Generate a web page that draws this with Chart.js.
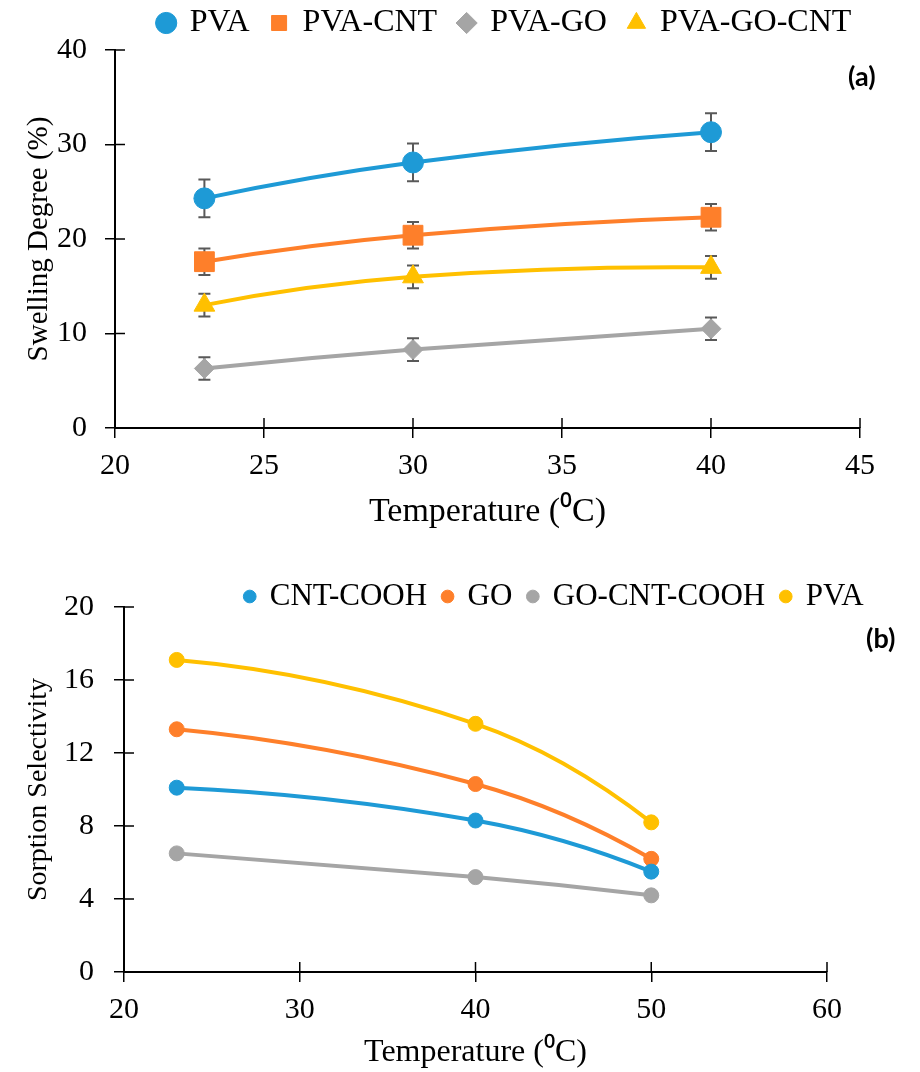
<!DOCTYPE html>
<html>
<head>
<meta charset="utf-8">
<script src="https://cdn.jsdelivr.net/npm/chart.js@4.4.0/dist/chart.umd.min.js"></script>
<style>
html, body { margin: 0; padding: 0; background: #fff; overflow: hidden; }
#wrap { position: relative; width: 920px; height: 1072px; overflow: hidden; }
canvas { position: absolute; left: 0; }
#chartA { top: -15px; }
#chartB { top: 565px; }
.tag { position: absolute; font-family: Lato, sans-serif; font-weight: bold; font-size: 27px; line-height: 1; color: #000; }
</style>
</head>
<body>
<div id="wrap">
  <canvas id="chartA" width="1010" height="555"></canvas>
  <canvas id="chartB" width="1109" height="507"></canvas>
  <div class="tag" style="left:848px; top:62px;">(a)</div>
  <div class="tag" style="left:866px; top:624px;">(b)</div>
</div>
<script>
// (a) swelling degree vs temperature
const tempsA = [23, 30, 40];
const pva = [24.3, 28.1, 31.3];
const pvaCnt = [17.6, 20.4, 22.3];
const pvaGo = [6.3, 8.3, 10.5];
const pvaGoCnt = [13.0, 16.0, 17.0];
const errPva = [2.0, 2.0, 2.0];
const errPvaCnt = [1.4, 1.4, 1.4];
const errPvaGo = [1.2, 1.2, 1.2];
const errPvaGoCnt = [1.2, 1.2, 1.2];
const ticksA_x = [20, 25, 30, 35, 40, 45];
const ticksA_y = [0, 10, 20, 30, 40];

// (b) sorption selectivity vs temperature
const tempsB = [23, 40, 50];
const cntCooh = [10.1, 8.3, 5.5];
const go = [13.3, 10.3, 6.2];
const goCntCooh = [6.5, 5.2, 4.2];
const pvaB = [17.1, 13.6, 8.2];
const ticksB_x = [20, 30, 40, 50, 60];
const ticksB_y = [0, 4, 8, 12, 16, 20];

const BLUE = '#1e9ad6';
const ORANGE = '#fe7f2a';
const GRAY = '#a5a5a5';
const GOLD = '#ffc000';
const SERIF = "'Liberation Serif', 'Times New Roman', serif";

Chart.defaults.font.family = SERIF;
Chart.defaults.color = '#000';

function pts(xs, ys) {
    return xs.map((x, i) => ({ x: x, y: ys[i] }));
}

// legend box gets a fixed height so the plot top lands where wanted
const legendHeight = {
    id: 'legendHeight',
    beforeInit(chart, args, opts) {
        const fit = chart.legend.fit;
        chart.legend.fit = function () {
            fit.call(this);
            this.height = opts.height;
        };
    }
};

// excel-like smoothing: catmull-rom inside, reflected tangent at the ends
const excelSmooth = {
    id: 'excelSmooth',
    beforeDatasetsDraw(chart) {
        chart.data.datasets.forEach((ds, di) => {
            const meta = chart.getDatasetMeta(di);
            const p = meta.data;
            const n = p.length;
            if (n < 3) return;
            const m = [];
            for (let i = 1; i < n - 1; i++) {
                m[i] = (p[i + 1].y - p[i - 1].y) / (p[i + 1].x - p[i - 1].x);
            }
            m[0] = 2 * (p[1].y - p[0].y) / (p[1].x - p[0].x) - m[1];
            m[n - 1] = 2 * (p[n - 1].y - p[n - 2].y) / (p[n - 1].x - p[n - 2].x) - m[n - 2];
            for (let i = 0; i < n; i++) {
                const hl = i > 0 ? (p[i].x - p[i - 1].x) / 3 : 0;
                const hr = i < n - 1 ? (p[i + 1].x - p[i].x) / 3 : 0;
                p[i].cp1x = p[i].x - hl;
                p[i].cp1y = p[i].y - m[i] * hl;
                p[i].cp2x = p[i].x + hr;
                p[i].cp2y = p[i].y + m[i] * hr;
            }
            meta.dataset._pointsUpdated = true;
        });
    }
};

// excel style "cross" ticks: the inner half of every tick mark
const innerTicks = {
    id: 'innerTicks',
    beforeDatasetsDraw(chart, args, opts) {
        const ctx = chart.ctx;
        const area = chart.chartArea;
        ctx.save();
        ctx.strokeStyle = '#000';
        ctx.lineWidth = opts.width;
        ['x', 'y'].forEach(id => {
            const s = chart.scales[id];
            s.ticks.forEach(t => {
                const p = s.getPixelForValue(t.value);
                ctx.beginPath();
                if (id === 'x') {
                    ctx.moveTo(p, area.bottom);
                    ctx.lineTo(p, area.bottom - opts.length);
                } else {
                    ctx.moveTo(area.left, p);
                    ctx.lineTo(area.left + opts.length, p);
                }
                ctx.stroke();
            });
        });
        ctx.restore();
    }
};

// vertical error bars with caps, from dataset.errors
const errorBars = {
    id: 'errorBars',
    beforeDatasetsDraw(chart) {
        const ctx = chart.ctx;
        const xs = chart.scales.x, ys = chart.scales.y;
        ctx.save();
        ctx.strokeStyle = '#595959';
        ctx.lineWidth = 2;
        chart.data.datasets.forEach(ds => {
            if (!ds.errors) return;
            ds.data.forEach((d, i) => {
                const x = xs.getPixelForValue(d.x);
                const y1 = ys.getPixelForValue(d.y - ds.errors[i]);
                const y2 = ys.getPixelForValue(d.y + ds.errors[i]);
                ctx.beginPath();
                ctx.moveTo(x, y1); ctx.lineTo(x, y2);
                ctx.moveTo(x - 6, y1); ctx.lineTo(x + 6, y1);
                ctx.moveTo(x - 6, y2); ctx.lineTo(x + 6, y2);
                ctx.stroke();
            });
        });
        ctx.restore();
    }
};

function series(label, xs, ys, color, style, radius, errs) {
    return {
        label: label,
        data: pts(xs, ys),
        errors: errs,
        showLine: true,
        borderColor: color,
        backgroundColor: color,
        borderWidth: 4,
        tension: 0.35,
        pointStyle: style,
        pointRadius: radius,
        pointBackgroundColor: color,
        pointBorderColor: color,
        pointBorderWidth: 1
    };
}

function axes(o) {
    return {
        x: {
            type: 'linear', min: o.xt[0], max: o.xt[o.xt.length - 1],
            afterBuildTicks: s => { s.ticks = o.xt.map(v => ({ value: v })); },
            ticks: { padding: 10, font: { family: SERIF, size: 30 }, color: '#000' },
            grid: { drawOnChartArea: false, tickLength: 10, color: '#000', lineWidth: 1.5 },
            border: { color: '#000', width: 2 },
            title: { display: true, text: 'Temperature (⁰C)', font: { family: SERIF, size: o.titleSize }, color: '#000',
                     padding: { top: 0, bottom: o.titlePad } },
            afterFit: s => { s.height = o.xHeight; }
        },
        y: {
            type: 'linear', min: o.yt[0], max: o.yt[o.yt.length - 1],
            afterBuildTicks: s => { s.ticks = o.yt.map(v => ({ value: v })); },
            ticks: { padding: o.yPad, font: { family: SERIF, size: 30 }, color: '#000' },
            grid: { drawOnChartArea: false, tickLength: 10, color: '#000', lineWidth: 1.5 },
            border: { color: '#000', width: 2 },
            title: { display: true, text: o.yTitle, font: { family: SERIF, size: o.ySize }, color: '#000',
                     padding: { top: 22, bottom: 0 } },
            afterFit: s => { s.width = o.yWidth; }
        },
        spacer: {
            type: 'linear', axis: 'y', position: 'right', display: true,
            grid: { display: false }, border: { display: false }, ticks: { display: false },
            afterFit: s => { s.width = o.rightWidth; }
        }
    };
}

new Chart(document.getElementById('chartA'), {
    type: 'scatter',
    data: {
        datasets: [
            series('PVA', tempsA, pva, BLUE, 'circle', 10.5, errPva),
            series('PVA-CNT', tempsA, pvaCnt, ORANGE, 'rect', 14, errPvaCnt),
            series('PVA-GO', tempsA, pvaGo, GRAY, 'rectRot', 10, errPvaGo),
            series('PVA-GO-CNT', tempsA, pvaGoCnt, GOLD, 'triangle', 12, errPvaGoCnt)
        ]
    },
    options: {
        responsive: false,
        animation: false,
        layout: { padding: 0 },
        plugins: {
            legend: {
                position: 'top',
                labels: { usePointStyle: true, boxWidth: 15, boxHeight: 15, padding: 22,
                          font: { family: SERIF, size: 32 }, color: '#000' }
            },
            tooltip: { enabled: false },
            legendHeight: { height: 65 },
            innerTicks: { length: 10, width: 1.5 }
        },
        scales: axes({ xt: ticksA_x, yt: ticksA_y, yTitle: 'Swelling Degree (%)', ySize: 29, yPad: 18,
                       yWidth: 115, rightWidth: 150, xHeight: 112, titleSize: 34, titlePad: 8 })
    },
    plugins: [legendHeight, excelSmooth, innerTicks, errorBars]
});

new Chart(document.getElementById('chartB'), {
    type: 'scatter',
    data: {
        datasets: [
            series('CNT-COOH', tempsB, cntCooh, BLUE, 'circle', 7.5),
            series('GO', tempsB, go, ORANGE, 'circle', 7.5),
            series('GO-CNT-COOH', tempsB, goCntCooh, GRAY, 'circle', 7.5),
            series('PVA', tempsB, pvaB, GOLD, 'circle', 7.5)
        ]
    },
    options: {
        responsive: false,
        animation: false,
        layout: { padding: 0 },
        plugins: {
            legend: {
                position: 'top',
                labels: { usePointStyle: true, boxWidth: 9, boxHeight: 9, padding: 16,
                          font: { family: SERIF, size: 31 }, color: '#000' }
            },
            tooltip: { enabled: false },
            legendHeight: { height: 42 },
            innerTicks: { length: 10, width: 1.5 }
        },
        scales: axes({ xt: ticksB_x, yt: ticksB_y, yTitle: 'Sorption Selectivity', ySize: 28, yPad: 20,
                       yWidth: 124, rightWidth: 282, xHeight: 100, titleSize: 32, titlePad: 0 })
    },
    plugins: [legendHeight, excelSmooth, innerTicks, errorBars]
});
</script>
</body>
</html>
